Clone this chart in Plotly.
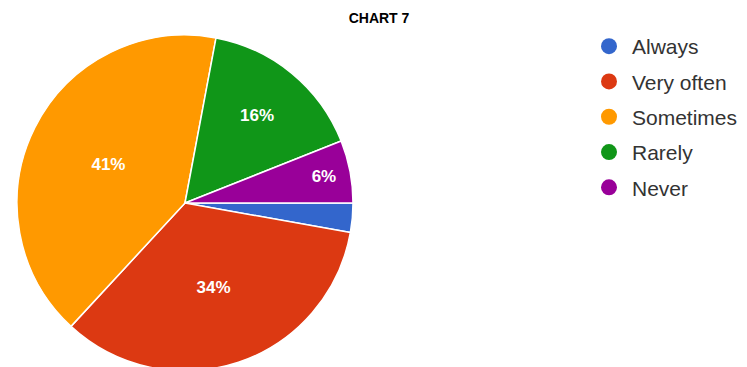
import plotly.graph_objects as go

categories = ["Always", "Very often", "Sometimes", "Rarely", "Never"]
values = [2.8, 34, 41, 16, 6]
slice_text = ["", "34%", "41%", "16%", "6%"]
colors = ["#3366CC", "#DC3912", "#FF9900", "#109618", "#990099"]

W, H = 747, 367
OFF = 8  # page body margin offset
fig = go.Figure()
fig.add_trace(go.Pie(
    labels=categories, values=values, text=slice_text,
    textinfo="text", textposition="inside", insidetextorientation="horizontal",
    textfont=dict(family="Liberation Sans, Arial", size=17, color="white", weight="bold"),
    marker=dict(colors=colors, line=dict(color="white", width=1.5)),
    sort=False, direction="clockwise", rotation=90,
    showlegend=False, hoverinfo="label+percent",
    domain=dict(x=[9 / W, 345 / W], y=[(H - 363) / H, (H - 27) / H]),
))
for c, col in zip(categories, colors):
    fig.add_trace(go.Scatter(x=[None], y=[None], mode="markers", name=c, legendgroup=c,
                             marker=dict(color=col, size=20, symbol="circle")))

fig.update_layout(
    width=W, height=H, margin=dict(l=0, r=0, t=0, b=0),
    paper_bgcolor="white", plot_bgcolor="white",
    title=dict(text="<b>CHART 7</b>", x=(379 - OFF) / W, xanchor="center",
               y=1 - 10 / H, yanchor="middle", pad=dict(t=0, b=0),
               font=dict(family="Liberation Sans, Arial", size=14, color="black")),
    xaxis=dict(visible=False), yaxis=dict(visible=False),
    legend=dict(x=(586 - OFF) / W, y=1 - (26 - OFF) / H, xanchor="left", yanchor="top",
                font=dict(family="Liberation Sans, Arial", size=21, color="#333333"),
                tracegroupgap=5, itemsizing="trace", itemwidth=36, bgcolor="rgba(0,0,0,0)"),
)
fig.write_html("out.html")
